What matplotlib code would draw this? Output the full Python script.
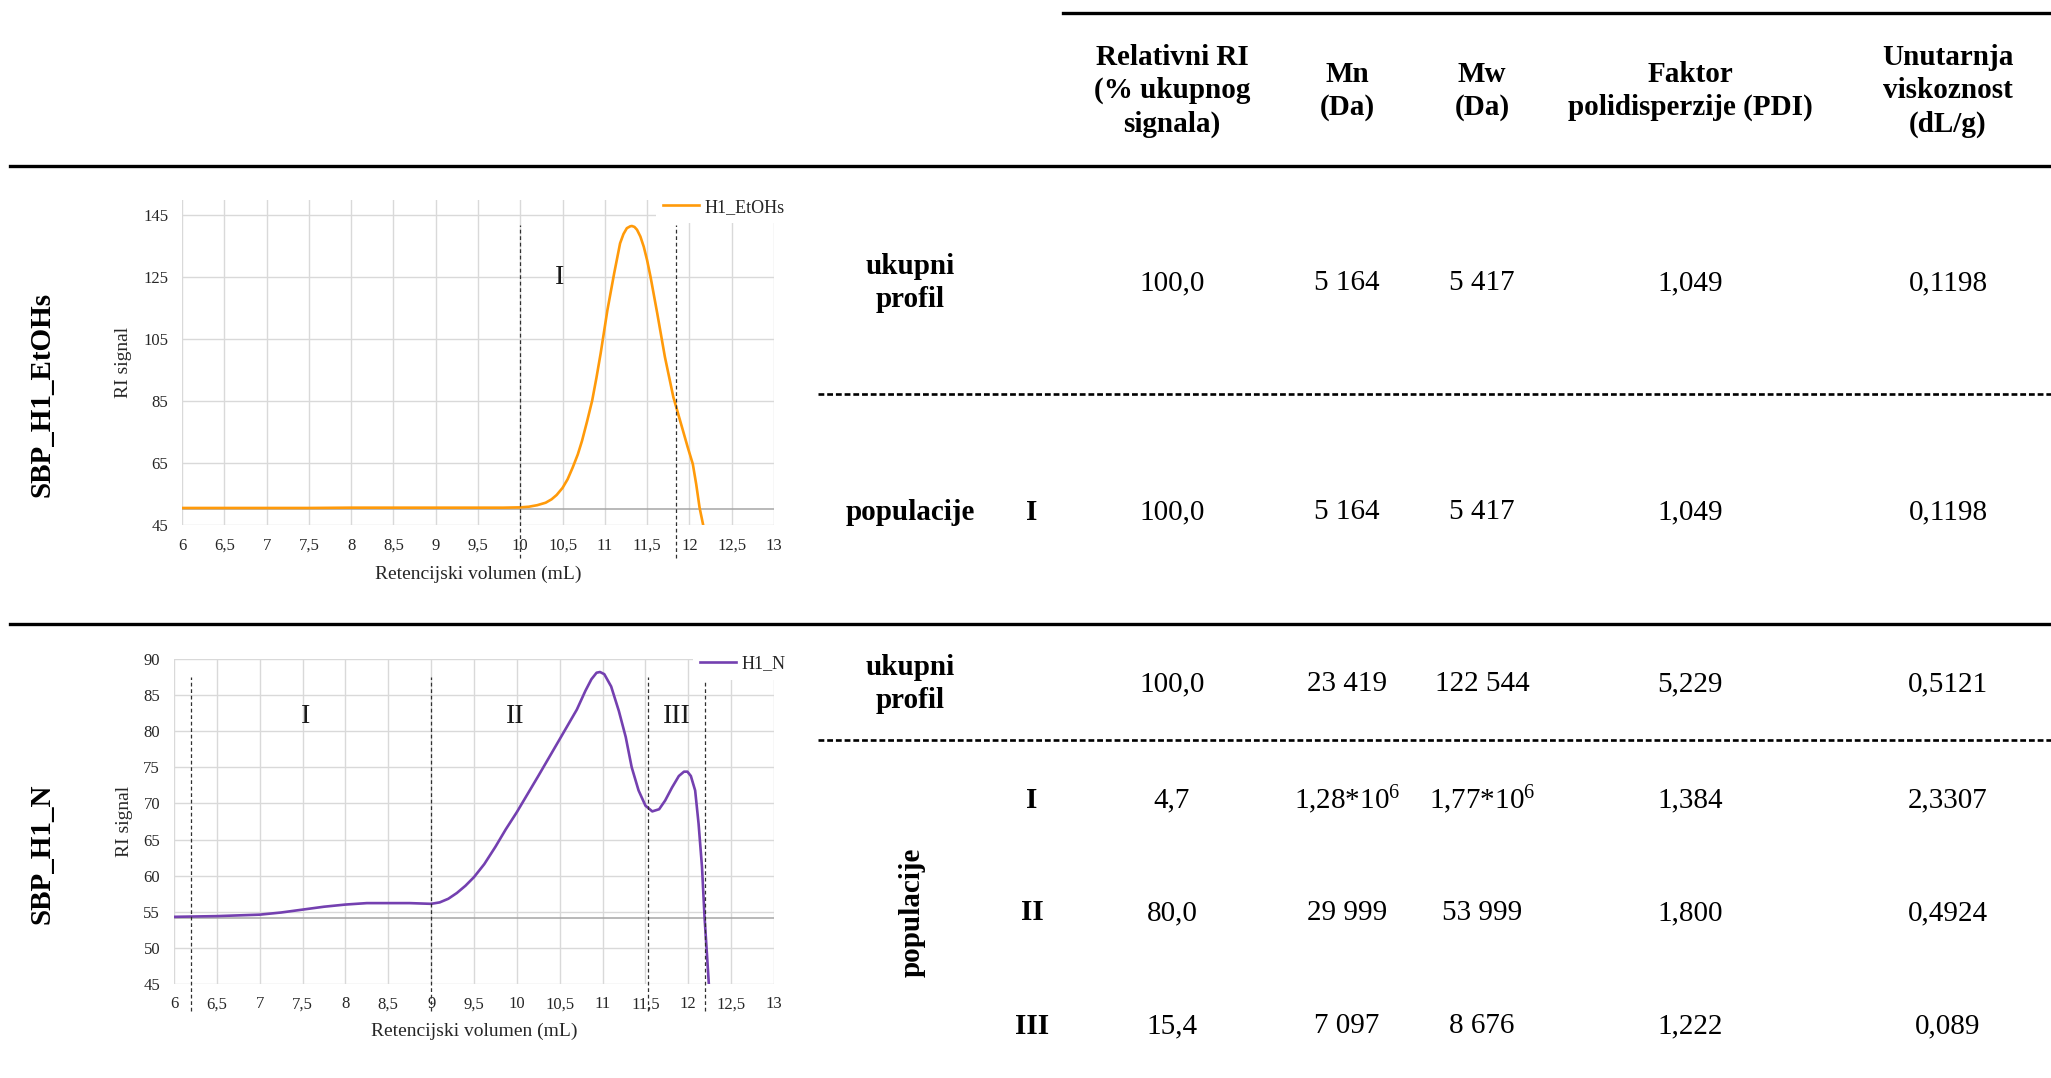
import matplotlib
matplotlib.use("Agg")
import matplotlib.pyplot as plt
from matplotlib.lines import Line2D

plt.rcParams["font.family"] = ["Liberation Serif", "DejaVu Serif"]
plt.rcParams["mathtext.default"] = "regular"

W, H = 2051, 1078

# ---- table data ----
header_labels = ["Relativni RI\n(% ukupnog\nsignala)", "Mn\n(Da)", "Mw\n(Da)",
                 "Faktor\npolidisperzije (PDI)", "Unutarnja\nviskoznost\n(dL/g)"]
sample_names = ["SBP_H1_EtOHs", "SBP_H1_N"]
etohs_total = ["100,0", "5 164", "5 417", "1,049", "0,1198"]
etohs_pops = ["I"]
etohs_pop_values = [["100,0", "5 164", "5 417", "1,049", "0,1198"]]
n_total = ["100,0", "23 419", "122 544", "5,229", "0,5121"]
n_pops = ["I", "II", "III"]
n_pop_values = [["4,7", "1,28*10$^{6}$", "1,77*10$^{6}$", "1,384", "2,3307"],
                ["80,0", "29 999", "53 999", "1,800", "0,4924"],
                ["15,4", "7 097", "8 676", "1,222", "0,089"]]

# ---- chromatogram data ----
etohs_x = [6.0, 6.5, 7.0, 7.5, 8.0, 8.5, 9.0, 9.5, 9.8, 10.0, 10.1, 10.2, 10.3, 10.37,
           10.43, 10.5, 10.56, 10.62, 10.68, 10.73, 10.79, 10.85, 10.9, 10.95, 11.03,
           11.11, 11.18, 11.22, 11.26, 11.3, 11.32, 11.35, 11.38, 11.42, 11.46, 11.5,
           11.54, 11.62, 11.71, 11.81, 11.89, 11.98, 12.04, 12.08, 12.12, 12.17]
etohs_y = [50.5, 50.5, 50.5, 50.5, 50.6, 50.6, 50.6, 50.6, 50.6, 50.7, 50.9, 51.4, 52.2, 53.3,
           54.7, 57.0, 59.8, 63.6, 67.8, 72.2, 78.5, 85.2, 92.5, 100.4, 114.4,
           126.3, 136.0, 139.0, 140.9, 141.5, 141.6, 141.3, 140.4, 138.2, 134.9, 130.5,
           125.2, 113.3, 99.3, 86.3, 78.7, 70.1, 64.7, 58.2, 50.6, 44.0]
etohs_baseline = 50.2
etohs_bounds = [10.0, 11.84]
etohs_region_x = [10.46]

n_x = [6.0, 6.5, 7.0, 7.25, 7.5, 7.75, 8.0, 8.25, 8.5, 8.75, 9.0, 9.1, 9.2, 9.3, 9.4, 9.5,
       9.62, 9.75, 9.87, 10.0, 10.25, 10.5, 10.7, 10.8, 10.87, 10.93, 10.97, 11.02, 11.1,
       11.19, 11.27, 11.34, 11.42, 11.5, 11.58, 11.66, 11.73, 11.81, 11.89, 11.95, 11.99,
       12.03, 12.08, 12.12, 12.16, 12.19, 12.22, 12.245]
n_y = [54.3, 54.4, 54.6, 54.9, 55.3, 55.7, 56.0, 56.2, 56.2, 56.2, 56.1, 56.3, 56.8, 57.6, 58.6, 59.8,
       61.6, 64.0, 66.4, 68.8, 73.8, 78.9, 83.0, 85.6, 87.2, 88.1, 88.2, 87.9, 86.2,
       82.8, 79.2, 75.0, 71.8, 69.7, 68.9, 69.2, 70.4, 72.2, 73.8, 74.4, 74.4,
       73.8, 71.8, 67.2, 61.2, 54.2, 48.7, 44.0]
n_baseline = 54.1
n_bounds = [6.2, 9.0, 11.53, 12.2]
n_region_x = [7.54, 9.98, 11.87]

x_ticks = [6 + 0.5 * i for i in range(15)]


def fig_text(fig, x, y, s, **kw):
    fig.text(x / W, 1 - y / H, s, ha="center", va="center", multialignment="center", **kw)


def fig_hline(fig, x0, x1, y, lw, ls="-"):
    fig.add_artist(Line2D([x0 / W, x1 / W], [1 - y / H, 1 - y / H], transform=fig.transFigure,
                          color="black", lw=lw, linestyle=ls))


def draw_chromatogram(fig, box, x, y, color, name, baseline, bounds, dash_span,
                      yticks, ylim, region_x, region_y, legend_anchor, label_pos):
    left, top, right, bottom = box
    ax = fig.add_axes([left / W, 1 - bottom / H, (right - left) / W, (bottom - top) / H])
    ax.set_xlim(6, 13)
    ax.set_ylim(*ylim)
    ax.set_xticks(x_ticks)
    ax.set_xticklabels([("%g" % t).replace(".", ",") for t in x_ticks])
    ax.set_yticks(yticks)
    ax.grid(True, color="#D9D9D9", lw=1.0)
    ax.set_axisbelow(True)
    for sp in ax.spines.values():
        sp.set_visible(False)
    ax.tick_params(axis="both", length=0, labelsize=12, labelcolor="#262626")
    ax.tick_params(axis="x", pad=9)
    ax.tick_params(axis="y", pad=10)

    ax.axhline(baseline, color="#A6A6A6", lw=1.1, zorder=2)
    ax.plot(x, y, color=color, lw=1.9, label=name, zorder=3)

    vl = ax.vlines(bounds, dash_span[0], dash_span[1], colors="#303030", lw=0.9,
                   linestyles=(0, (3, 2.2)), zorder=4)
    vl.set_clip_on(False)

    for i, rx in enumerate(region_x):
        ax.text(rx, region_y, "I" * (i + 1), ha="center", va="center", fontsize=20,
                color="#1a1a1a")

    leg = ax.legend(loc="center left", bbox_to_anchor=legend_anchor, fontsize=13,
                    frameon=True, facecolor="white", edgecolor="none", framealpha=1,
                    handlelength=2.0, handletextpad=0.3, borderpad=0.4, borderaxespad=0)
    for t in leg.get_texts():
        t.set_color("#262626")

    ax.text(0.5, label_pos[1], "Retencijski volumen (mL)", transform=ax.transAxes,
            ha="center", va="center", fontsize=14, color="#262626")
    ax.text(label_pos[0], 0.5, "RI signal", transform=ax.transAxes, rotation=90,
            ha="center", va="center", fontsize=14, color="#262626")
    return ax


def main():
    fig = plt.figure(figsize=(W / 100, H / 100), dpi=100)
    fig.patch.set_facecolor("white")

    # table rules
    fig_hline(fig, 1063, W, 13, 2.4)
    fig_hline(fig, 10, W, 166, 2.4)
    fig_hline(fig, 10, W, 624, 2.4)
    fig_hline(fig, 818, W, 394, 1.9, (0, (2.2, 1.1)))
    fig_hline(fig, 818, W, 740, 1.9, (0, (2.2, 1.1)))

    col_x = [1172, 1347, 1482, 1690, 1948]
    fs = 21
    for cx, lab in zip(col_x, header_labels):
        fig_text(fig, cx, 91, lab, fontsize=fs, fontweight="bold", linespacing=1.28)

    # sample names
    fig_text(fig, 42, 394, sample_names[0], fontsize=fs, fontweight="bold", rotation=90)
    fig_text(fig, 42, 854, sample_names[1], fontsize=fs, fontweight="bold", rotation=90)

    # first sample rows
    fig_text(fig, 910, 283, "ukupni\nprofil", fontsize=fs, fontweight="bold", linespacing=1.28)
    for cx, v in zip(col_x, etohs_total):
        fig_text(fig, cx, 283, v, fontsize=fs)
    fig_text(fig, 910, 512, "populacije", fontsize=fs, fontweight="bold")
    for p, vals in zip(etohs_pops, etohs_pop_values):
        fig_text(fig, 1032, 512, p, fontsize=fs, fontweight="bold")
        for cx, v in zip(col_x, vals):
            fig_text(fig, cx, 512, v, fontsize=fs)

    # second sample rows
    fig_text(fig, 910, 684, "ukupni\nprofil", fontsize=fs, fontweight="bold", linespacing=1.28)
    for cx, v in zip(col_x, n_total):
        fig_text(fig, cx, 684, v, fontsize=fs)
    fig_text(fig, 912, 912, "populacije", fontsize=fs, fontweight="bold", rotation=90)
    for py, p, vals in zip([800, 913, 1026], n_pops, n_pop_values):
        fig_text(fig, 1032, py, p, fontsize=fs, fontweight="bold")
        for cx, v in zip(col_x, vals):
            fig_text(fig, cx, py, v, fontsize=fs)

    # embedded chromatograms
    draw_chromatogram(fig, (182, 200, 774, 525), etohs_x, etohs_y, "#FF9A0A", "H1_EtOHs",
                      etohs_baseline, etohs_bounds, (34.5, 142), [45, 65, 85, 105, 125, 145],
                      (45, 150), etohs_region_x, 125, (0.80, 0.978), (-0.098, -0.151))
    draw_chromatogram(fig, (174, 659, 774, 984), n_x, n_y, "#7440B0", "H1_N",
                      n_baseline, n_bounds, (41.3, 87.5), list(range(45, 91, 5)),
                      (45, 90), n_region_x, 82, (0.865, 0.985), (-0.083, -0.145))

    fig.savefig("out.png", dpi=100, facecolor="white")


if __name__ == "__main__":
    main()
